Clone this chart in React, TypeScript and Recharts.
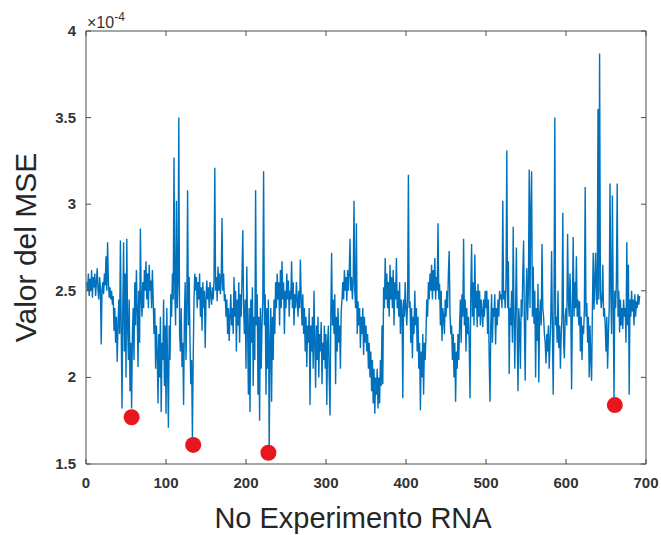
import React from "react";
import { ComposedChart, Line, Scatter, XAxis, YAxis, Label } from "recharts";

const mseValues: number[] = [
  2.55, 2.50, 2.60, 2.47, 2.57, 2.50, 2.62, 2.46, 2.58, 2.52,
  2.60, 2.47, 2.55, 2.63, 2.50, 2.45, 2.58, 2.52, 2.19, 2.50,
  2.55, 2.48, 2.60, 2.53, 2.70, 2.50, 2.78, 2.55, 2.46, 2.52,
  2.45, 2.50, 2.42, 2.47, 2.27, 2.40, 2.20, 2.35, 2.09, 2.30,
  2.45, 2.25, 2.79, 2.30, 1.82, 2.40, 2.78, 2.15, 2.60, 2.00,
  2.80, 2.30, 2.10, 2.45, 1.92, 2.20, 1.82, 2.25, 2.40, 2.10,
  2.55, 2.30, 2.62, 2.40, 2.06, 2.50, 2.20, 2.86, 2.45, 2.35,
  2.55, 2.40, 2.62, 2.50, 2.67, 2.45, 2.60, 2.40, 2.65, 2.50,
  2.56, 2.40, 2.62, 2.45, 2.25, 2.40, 2.05, 2.30, 2.15, 1.85,
  2.25, 2.00, 2.35, 1.80, 2.20, 2.10, 2.45, 1.95, 2.30, 1.79,
  2.40, 2.05, 1.71, 2.30, 2.10, 2.48, 2.35, 2.60, 2.45, 3.27,
  2.50, 2.30, 3.02, 2.40, 2.55, 3.50, 2.25, 2.15, 2.40, 2.06,
  2.20, 1.84, 2.35, 2.55, 2.10, 2.40, 3.08, 2.30, 2.58, 2.20,
  1.96, 2.10, 1.65, 2.10, 2.45, 2.60, 2.50, 2.58, 2.40, 2.55,
  2.45, 2.60, 2.35, 2.52, 2.27, 2.55, 2.40, 2.50, 2.17, 2.45,
  2.56, 2.45, 2.52, 2.40, 2.55, 2.48, 2.42, 2.52, 2.45, 2.56,
  3.21, 2.50, 2.58, 2.44, 2.64, 2.50, 2.60, 2.48, 2.55, 2.92,
  2.50, 2.60, 2.44, 2.48, 2.35, 2.45, 2.25, 2.40, 2.21, 2.35,
  2.48, 2.30, 2.40, 2.25, 2.58, 2.35, 2.50, 2.15, 2.45, 2.30,
  2.55, 2.20, 2.48, 2.35, 2.58, 2.85, 2.40, 2.25, 2.45, 2.05,
  2.64, 2.30, 1.90, 2.40, 1.80, 2.45, 2.20, 2.52, 1.95, 2.35,
  2.10, 3.08, 2.30, 2.48, 1.90, 2.35, 1.75, 2.40, 2.05, 2.30,
  2.45, 3.19, 2.30, 2.48, 1.90, 2.40, 2.05, 2.45, 1.58, 2.20,
  2.40, 1.86, 2.35, 2.10, 2.45, 2.25, 2.55, 2.40, 2.60, 2.45,
  2.55, 2.30, 2.62, 2.40, 2.67, 2.45, 2.55, 2.25, 2.50, 2.40,
  2.60, 2.45, 2.56, 2.35, 2.50, 2.45, 2.67, 2.40, 2.55, 2.30,
  2.48, 2.40, 2.55, 2.45, 2.35, 2.50, 2.40, 2.68, 2.45, 2.30,
  2.48, 2.25, 2.40, 2.15, 2.35, 2.06, 2.30, 2.20, 2.40, 1.84,
  2.30, 2.15, 2.35, 2.05, 2.50, 2.20, 1.94, 2.30, 2.10, 2.35,
  2.00, 2.25, 2.15, 2.32, 1.96, 2.20, 2.10, 2.30, 2.05, 2.25,
  1.84, 2.20, 2.30, 2.00, 1.78, 2.35, 2.72, 2.30, 2.45, 2.25,
  2.48, 1.96, 2.35, 2.15, 2.40, 2.20, 2.30, 2.05, 2.38, 2.45,
  2.55, 2.45, 2.62, 2.50, 2.58, 2.44, 2.62, 2.50, 2.60, 2.80,
  2.50, 2.58, 2.45, 2.55, 3.02, 2.50, 2.40, 2.89, 2.25, 2.44,
  2.30, 2.40, 2.17, 2.35, 2.25, 2.40, 2.13, 2.35, 2.20, 2.30,
  2.15, 2.25, 2.05, 2.20, 2.00, 2.15, 1.92, 2.10, 1.85, 2.05,
  1.79, 2.00, 1.90, 2.05, 1.82, 2.00, 1.85, 2.10, 1.95, 2.30,
  1.96, 2.52, 2.40, 2.69, 2.45, 2.60, 2.40, 2.55, 2.35, 2.65,
  2.45, 2.58, 2.40, 2.62, 2.30, 2.55, 2.45, 2.69, 2.40, 2.50,
  2.35, 2.55, 2.25, 2.45, 2.40, 1.88, 2.45, 2.35, 2.55, 2.40,
  2.30, 2.45, 3.17, 2.40, 2.44, 2.20, 2.40, 2.11, 2.35, 2.25,
  2.50, 2.30, 2.40, 2.15, 2.35, 2.05, 2.20, 1.81, 2.15, 2.00,
  2.25, 1.90, 2.20, 2.10, 2.25, 2.45, 2.35, 2.55, 2.45, 2.60,
  2.50, 2.65, 2.45, 2.62, 2.50, 2.69, 2.45, 2.58, 2.50, 2.89,
  2.45, 2.54, 2.30, 2.50, 2.21, 2.40, 2.35, 2.25, 2.45, 2.35,
  2.50, 2.40, 2.60, 2.73, 2.37, 2.25, 2.30, 2.10, 2.25, 2.00,
  2.20, 1.86, 2.15, 2.05, 2.25, 2.10, 2.30, 2.45, 2.20, 2.48,
  2.35, 2.80, 2.30, 2.45, 2.15, 2.40, 2.25, 2.35, 2.20, 1.88,
  2.50, 2.77, 2.35, 2.55, 2.30, 2.71, 2.40, 2.50, 2.29, 2.54,
  2.35, 2.50, 2.30, 2.45, 2.38, 2.29, 2.45, 2.35, 2.50, 2.40,
  2.50, 2.25, 2.45, 2.10, 1.86, 2.30, 2.48, 2.20, 2.40, 2.35,
  2.48, 2.19, 2.40, 2.30, 2.45, 2.35, 2.50, 2.45, 2.48, 2.40,
  3.02, 2.45, 2.50, 2.40, 2.55, 3.31, 2.40, 2.67, 2.02, 2.40,
  2.30, 2.50, 2.20, 2.87, 2.35, 2.05, 2.40, 2.75, 2.25, 1.92,
  2.40, 2.30, 2.05, 2.45, 2.35, 2.60, 2.79, 2.30, 1.98, 2.45,
  2.63, 2.33, 2.50, 3.20, 2.40, 2.98, 3.19, 2.35, 2.64, 2.31,
  2.50, 2.00, 2.40, 2.21, 2.54, 1.97, 2.35, 2.45, 2.30, 2.77,
  2.40, 2.35, 2.25, 2.20, 2.08, 2.25, 2.15, 2.30, 2.05, 2.20,
  2.35, 2.73, 2.28, 1.90, 2.40, 3.50, 2.30, 2.35, 2.20, 2.50,
  2.17, 2.30, 2.05, 2.25, 2.35, 2.95, 2.20, 2.11, 2.35, 2.40,
  2.30, 2.83, 2.45, 2.35, 2.60, 2.40, 1.93, 2.40, 2.81, 2.35,
  2.55, 2.40, 2.70, 2.35, 2.45, 2.30, 2.44, 2.15, 2.35, 2.10,
  2.30, 2.25, 2.40, 3.10, 2.35, 2.43, 2.20, 2.35, 2.00, 2.30,
  2.10, 1.98, 2.40, 2.72, 2.39, 2.55, 2.72, 2.45, 2.42, 3.55,
  2.45, 3.87, 2.50, 2.40, 2.45, 2.65, 2.35, 2.40, 2.30, 2.15,
  2.35, 2.05, 2.25, 2.40, 3.12, 2.50, 2.25, 3.05, 2.45, 1.88,
  2.50, 2.40, 2.55, 3.12, 2.35, 2.50, 2.26, 2.45, 2.30, 2.40,
  2.28, 2.45, 2.35, 2.40, 2.20, 2.78, 2.30, 2.65, 1.90, 2.45,
  2.35, 2.50, 2.38, 2.45, 2.30, 2.48, 2.35, 2.44, 2.40, 2.48,
  2.42, 2.47,
];

// highlighted minima (red dots)
const bestX: number[] = [57, 134, 228, 661];
const bestY: number[] = [1.77, 1.61, 1.565, 1.84];

const xTicks: number[] = [0, 100, 200, 300, 400, 500, 600, 700];
const yTicks: number[] = [1.5, 2, 2.5, 3, 3.5, 4];
const xTickLabels: string[] = ["0", "100", "200", "300", "400", "500", "600", "700"];
const yTickLabels: string[] = ["1.5", "2", "2.5", "3", "3.5", "4"];

const lineData = mseValues.map((v, i) => ({ x: i + 1, y: v }));
const dotData = bestX.map((x, i) => ({ x, y: bestY[i] }));

const FONT = "'Liberation Sans', Arial, Helvetica, sans-serif";
const AXIS = "#4d4d4d";
const TICKTXT = "#333333";
const TL = 5;

const BottomTick = (p: any) => {
  const idx = xTicks.indexOf(p.payload.value);
  return (
    <g>
      <line x1={p.x} y1={p.y} x2={p.x} y2={p.y - TL} stroke={AXIS} strokeWidth={1} />
      <text x={p.x} y={p.y + 24} textAnchor="middle" fontFamily={FONT} fontSize={15} fontWeight="bold" fill={TICKTXT}>
        {xTickLabels[idx]}
      </text>
    </g>
  );
};

const TopTick = (p: any) => (
  <line x1={p.x} y1={p.y} x2={p.x} y2={p.y + TL} stroke={AXIS} strokeWidth={1} />
);

const LeftTick = (p: any) => {
  const idx = yTicks.indexOf(p.payload.value);
  return (
    <g>
      <line x1={p.x} y1={p.y} x2={p.x + TL} y2={p.y} stroke={AXIS} strokeWidth={1} />
      <text x={p.x - 10} y={p.y + 5} textAnchor="end" fontFamily={FONT} fontSize={15} fontWeight="bold" fill={TICKTXT}>
        {yTickLabels[idx]}
      </text>
    </g>
  );
};

const RightTick = (p: any) => (
  <line x1={p.x} y1={p.y} x2={p.x - TL} y2={p.y} stroke={AXIS} strokeWidth={1} />
);

const RedDot = (p: any) => <circle cx={p.cx} cy={p.cy} r={8} fill="#e8161e" />;

export default function App() {
  return (
    <div style={{ position: "absolute", left: 0, top: 0, width: 661, height: 535, background: "#fff" }}>
      <ComposedChart
        width={661}
        height={535}
        margin={{ top: 30, right: 14, bottom: 41, left: 26 }}
      >
        <XAxis
          xAxisId="b"
          dataKey="x"
          type="number"
          domain={[0, 700]}
          ticks={xTicks}
          interval={0}
          height={30}
          tickSize={0}
          tickMargin={0}
          tickLine={false}
          axisLine={{ stroke: AXIS, strokeWidth: 1 }}
          tick={(p: any) => <BottomTick {...p} />}
          allowDataOverflow
        >
          <Label
            content={(lp: any) => {
              const vb = lp.viewBox;
              return (
                <text x={vb.x + vb.width / 2 - 13} y={vb.y + 64} textAnchor="middle" fontFamily={FONT} fontSize={29} fill="#262626">
                  No Experimento RNA
                </text>
              );
            }}
          />
        </XAxis>
        <XAxis
          xAxisId="t"
          orientation="top"
          dataKey="x"
          type="number"
          domain={[0, 700]}
          ticks={xTicks}
          interval={0}
          height={1}
          tickSize={0}
          tickMargin={0}
          tickLine={false}
          axisLine={{ stroke: AXIS, strokeWidth: 1 }}
          tick={(p: any) => <TopTick {...p} />}
          allowDataOverflow
        />
        <YAxis
          yAxisId="l"
          type="number"
          domain={[1.5, 4]}
          ticks={yTicks}
          interval={0}
          width={60}
          tickSize={0}
          tickMargin={0}
          tickLine={false}
          axisLine={{ stroke: AXIS, strokeWidth: 1 }}
          tick={(p: any) => <LeftTick {...p} />}
          allowDataOverflow
        >
          <Label
            content={(lp: any) => {
              const vb = lp.viewBox;
              const cx = vb.x + 10;
              const cy = vb.y + vb.height / 2;
              return (
                <g>
                  <text x={cx} y={cy} transform={`rotate(-90, ${cx}, ${cy})`} textAnchor="middle" fontFamily={FONT} fontSize={30} fill="#262626">
                    Valor del MSE
                  </text>
                  <text x={vb.x + vb.width + 1} y={vb.y - 3} fontFamily={FONT} fontSize={16} fill="#333333">
                    {"\u00d710"}
                    <tspan dy={-7} fontSize={12}>-4</tspan>
                  </text>
                </g>
              );
            }}
          />
        </YAxis>
        <YAxis
          yAxisId="r"
          orientation="right"
          type="number"
          domain={[1.5, 4]}
          ticks={yTicks}
          interval={0}
          width={1}
          tickSize={0}
          tickMargin={0}
          tickLine={false}
          axisLine={{ stroke: AXIS, strokeWidth: 1 }}
          tick={(p: any) => <RightTick {...p} />}
          allowDataOverflow
        />
        <Line
          xAxisId="b"
          yAxisId="l"
          data={lineData}
          dataKey="y"
          type="linear"
          stroke="#0072BD"
          strokeWidth={1.4}
          dot={false}
          activeDot={false}
          isAnimationActive={false}
        />
        <Scatter
          xAxisId="t"
          yAxisId="r"
          data={dotData}
          dataKey="y"
          shape={(p: any) => <RedDot {...p} />}
          isAnimationActive={false}
        />
      </ComposedChart>
    </div>
  );
}
